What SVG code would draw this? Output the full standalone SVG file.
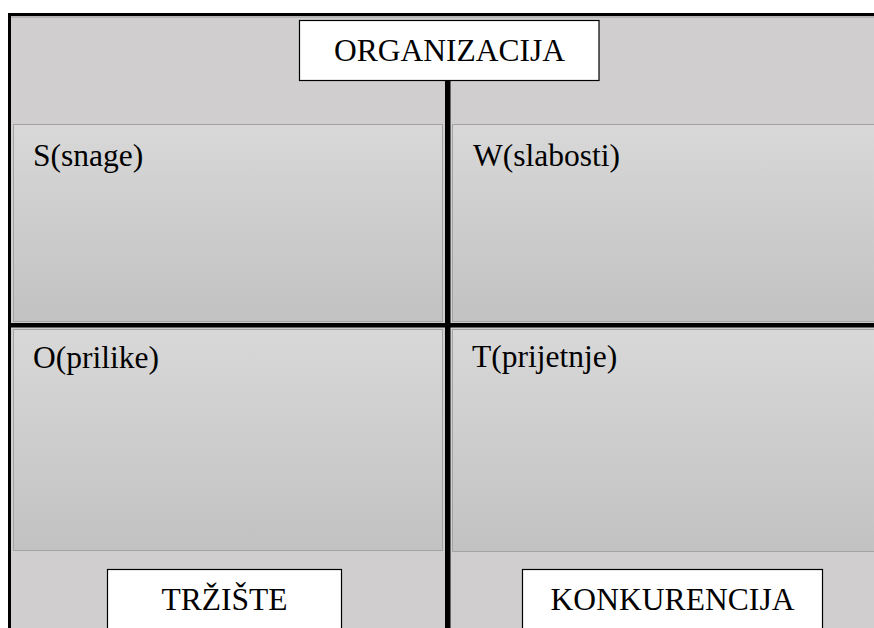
<svg xmlns="http://www.w3.org/2000/svg" width="874" height="628" viewBox="0 0 874 628">
  <defs>
    <linearGradient id="quadFill" x1="0" y1="0" x2="0" y2="1">
      <stop offset="0" stop-color="#d8d8d8"/>
      <stop offset="1" stop-color="#c2c2c2"/>
    </linearGradient>
    <style>
      .quad { fill: url(#quadFill); stroke: #a3a3a3; stroke-width: 1; }
      .box { fill: #ffffff; stroke: #000000; stroke-width: 1.2; }
      .lbl { font-size: 31.5px; fill: #000000; }
      .mid { text-anchor: middle; }
      .bar { fill: #000000; }
    </style>
  </defs>
  <rect x="0" y="0" width="874" height="628" fill="#ffffff"/>
  <g id="frame">
    <rect x="10" y="15" width="864" height="613" fill="#d0cece"/>
    <line x1="11" y1="17" x2="874" y2="17" stroke="#9a9a9a" stroke-width="1"/>
    <rect x="8" y="13" width="866" height="3" class="bar"/>
    <rect x="8" y="13" width="3" height="615" class="bar"/>
  </g>
  <g font-family="'Liberation Serif', 'Times New Roman', serif">
    <g id="quadrant-S">
      <rect x="13.5" y="124.5" width="429" height="197" class="quad"/>
      <text x="33" y="166" class="lbl">S(snage)</text>
    </g>
    <g id="quadrant-W">
      <rect x="452.5" y="124.5" width="430" height="197" class="quad"/>
      <text x="473" y="166" class="lbl">W(slabosti)</text>
    </g>
    <g id="quadrant-O">
      <rect x="13.5" y="329.5" width="429" height="221" class="quad"/>
      <text x="33" y="368" class="lbl">O(prilike)</text>
    </g>
    <g id="quadrant-T">
      <rect x="452.5" y="329.5" width="430" height="222" class="quad"/>
      <text x="472" y="367" class="lbl">T(prijetnje)</text>
    </g>
    <g id="connectors">
      <rect x="445" y="80" width="5.5" height="548" class="bar"/>
      <rect x="10" y="323" width="864" height="4.5" class="bar"/>
    </g>
    <g id="node-organizacija">
      <rect x="299.5" y="20.5" width="299.5" height="60" class="box"/>
      <text x="449.5" y="61" class="lbl mid">ORGANIZACIJA</text>
    </g>
    <g id="node-trziste">
      <rect x="107.5" y="569.5" width="234" height="70" class="box"/>
      <text x="224.5" y="610" class="lbl mid">TRŽIŠTE</text>
    </g>
    <g id="node-konkurencija">
      <rect x="522.5" y="569.5" width="300" height="70" class="box"/>
      <text x="672.5" y="610" class="lbl mid" textLength="244">KONKURENCIJA</text>
    </g>
  </g>
</svg>
